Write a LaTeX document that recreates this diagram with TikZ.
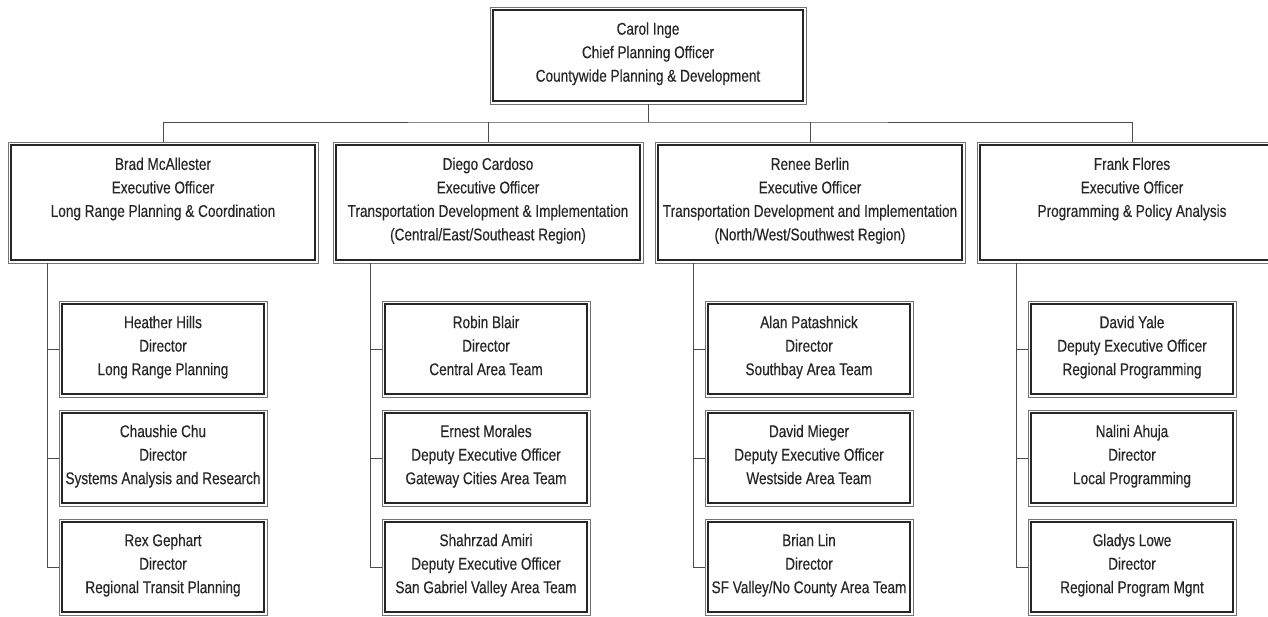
\documentclass[tikz,border=0pt]{standalone}
\usepackage{fontspec}
\setmainfont[FakeStretch=0.8,FakeBold=0.3]{Liberation Sans}
\usetikzlibrary{positioning}

\begin{document}
\begin{tikzpicture}[x=1pt,y=1pt,
  box/.style={draw=black!85, line width=1.8pt, outer sep=3pt, align=center,
    text=black!85, font=\fontsize{17}{23.5}\selectfont,
    execute at begin node=\strut, execute at end node=\strut},
  chief/.style={box, minimum width=310pt, minimum height=91pt},
  exec/.style={box, minimum width=304pt, minimum height=115pt},
  staff/.style={box, minimum width=202pt, minimum height=90pt},
  frame/.style={draw=black!55, line width=0.8pt},
  link/.style={draw=black!70, line width=0.8pt}]
\useasboundingbox (0,0) rectangle (1268,616);

\node[chief] (ceo) at (648,560.5) {Carol Inge\\ Chief Planning Officer\\ Countywide Planning \& Development};

% executive officers
\node[exec] (brad) at (163,413.5) {Brad McAllester\\ Executive Officer\\ Long Range Planning \& Coordination\\ \mbox{}};
\node[exec] (diego) at (488,413.5) {Diego Cardoso\\ Executive Officer\\ Transportation Development \& Implementation\\ (Central/East/Southeast Region)};
\node[exec] (renee) at (810,413.5) {Renee Berlin\\ Executive Officer\\ Transportation Development and Implementation\\ (North/West/Southwest Region)};
\node[exec] (frank) at (1132,413.5) {Frank Flores\\ Executive Officer\\ Programming \& Policy Analysis\\ \mbox{}};

% directors
\node[staff] (hills) at (163,267) {Heather Hills\\ Director\\ Long Range Planning};
\node[staff, below=13pt of hills] (chu) {Chaushie Chu\\ Director\\ Systems Analysis and Research};
\node[staff, below=13pt of chu] (gephart) {Rex Gephart\\ Director\\ Regional Transit Planning};

\node[staff] (blair) at (486,267) {Robin Blair\\ Director\\ Central Area Team};
\node[staff, below=13pt of blair] (morales) {Ernest Morales\\ Deputy Executive Officer\\ Gateway Cities Area Team};
\node[staff, below=13pt of morales] (amiri) {Shahrzad Amiri\\ Deputy Executive Officer\\ San Gabriel Valley Area Team};

\node[staff] (patashnick) at (809,267) {Alan Patashnick\\ Director\\ Southbay Area Team};
\node[staff, below=13pt of patashnick] (mieger) {David Mieger\\ Deputy Executive Officer\\ Westside Area Team};
\node[staff, below=13pt of mieger] (lin) {Brian Lin\\ Director\\ SF Valley/No County Area Team};

\node[staff] (yale) at (1132,267) {David Yale\\ Deputy Executive Officer\\ Regional Programming};
\node[staff, below=13pt of yale] (ahuja) {Nalini Ahuja\\ Director\\ Local Programming};
\node[staff, below=13pt of ahuja] (lowe) {Gladys Lowe\\ Director\\ Regional Program Mgnt};

% outer thin frames
\foreach \n in {ceo,brad,diego,renee,frank,hills,chu,gephart,blair,morales,amiri,
  patashnick,mieger,lin,yale,ahuja,lowe}
  \draw[frame] (\n.north west) rectangle (\n.south east);

% top bus
\draw[link] (ceo.south) -- ++(0,-18) coordinate (bus);
\draw[link] (brad.north) |- (bus) -| (frank.north);
\draw[link] (diego.north) -- (diego.north |- bus);
\draw[link] (renee.north) -- (renee.north |- bus);

% trunks down each column
\foreach \e/\a/\b/\c in {brad/hills/chu/gephart, diego/blair/morales/amiri,
  renee/patashnick/mieger/lin, frank/yale/ahuja/lowe} {
  \coordinate (t) at ([xshift=-12pt]\a.west);
  \draw[link] (t |- \e.south) -- (t |- \c.west);
  \foreach \s in {\a,\b,\c}
    \draw[link] (t |- \s.west) -- (\s.west);
}
\end{tikzpicture}
\end{document}
